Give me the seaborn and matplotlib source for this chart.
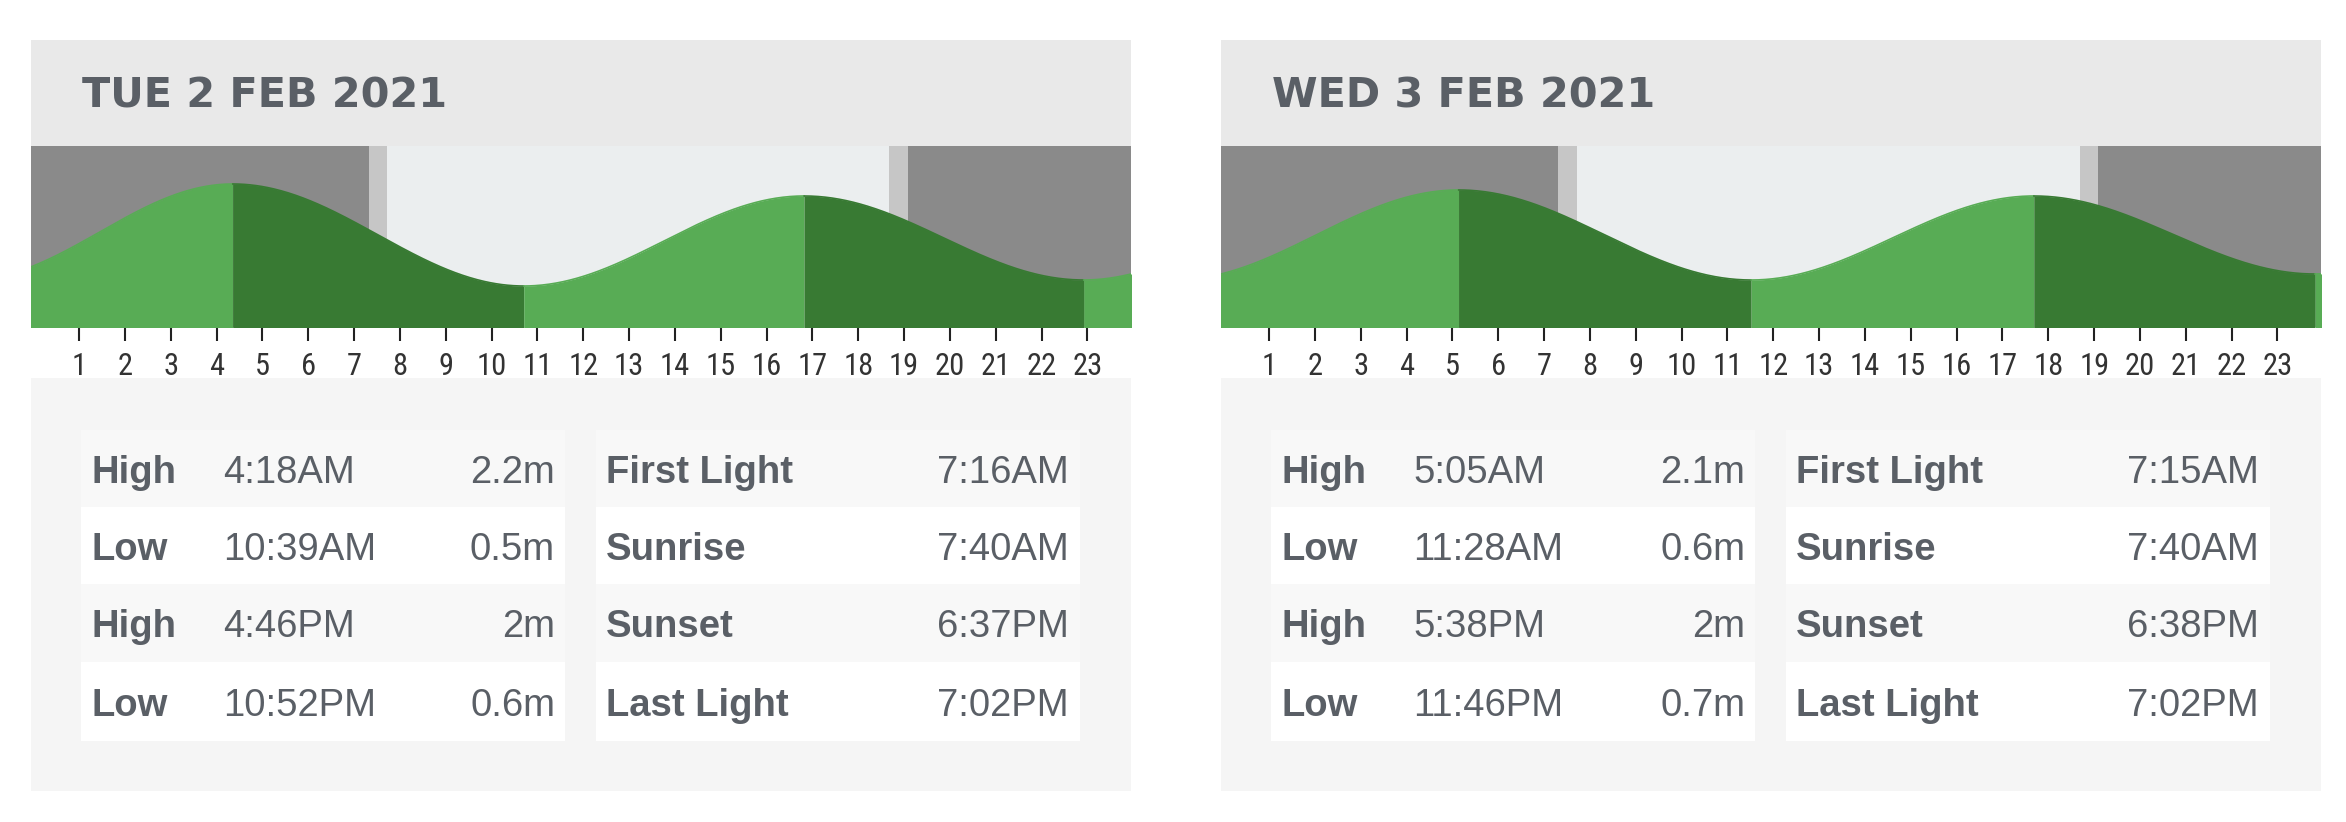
import numpy as np
import pandas as pd
import matplotlib
matplotlib.use("Agg")
import matplotlib.pyplot as plt
from matplotlib.patches import Rectangle
from matplotlib import font_manager
import seaborn as sns

# ---------------- data ----------------
days = ["TUE 2 FEB 2021", "WED 3 FEB 2021"]

tue_tide_types = ["High", "Low", "High", "Low"]
tue_tide_times = ["4:18AM", "10:39AM", "4:46PM", "10:52PM"]
tue_tide_heights = [2.2, 0.5, 2.0, 0.6]
tue_light_times = ["7:16AM", "7:40AM", "6:37PM", "7:02PM"]
# estimated neighbouring extremes (previous / next day) that shape the curve ends
tue_prev_extreme = ("-1.5h", 0.6)
tue_next_extreme = ("5:05AM+", 2.1)

wed_tide_types = ["High", "Low", "High", "Low"]
wed_tide_times = ["5:05AM", "11:28AM", "5:38PM", "11:46PM"]
wed_tide_heights = [2.1, 0.6, 2.0, 0.7]
wed_light_times = ["7:15AM", "7:40AM", "6:38PM", "7:02PM"]
wed_prev_extreme = ("10:52PM-", 0.6)
wed_next_extreme = ("6:00AM+", 2.1)

light_labels = ["First Light", "Sunrise", "Sunset", "Last Light"]
hour_ticks = list(range(1, 24))


def parse_time(t):
    if t.endswith("h"):
        return float(t[:-1])
    shift = 0
    if t.endswith("+"):
        shift, t = 24, t[:-1]
    elif t.endswith("-"):
        shift, t = -24, t[:-1]
    hm, ap = t[:-2], t[-2:]
    h, m = hm.split(":")
    h = int(h) % 12 + (12 if ap == "PM" else 0)
    return h + int(m) / 60 + shift


# ---------------- style ----------------
sns.set_style("white")
plt.rcParams["font.family"] = ["Liberation Sans", "DejaVu Sans"]

# find a condensed sans font for the hour labels
names = {f.name for f in font_manager.fontManager.ttflist}
narrow_family = None
for cand in ["Liberation Sans Narrow", "Arial Narrow", "DejaVu Sans Condensed",
             "Roboto Condensed", "Open Sans Condensed", "Noto Sans Condensed",
             "Noto Sans Display Condensed"]:
    if cand in names:
        narrow_family = cand
        break
narrow_stretch = "normal"
if narrow_family is None:
    for f in font_manager.fontManager.ttflist:
        if f.name in ("Noto Sans", "Open Sans", "Roboto", "Inter") and \
                str(f.stretch) in ("condensed", "semi-condensed", "75", "87.5", "62.5"):
            narrow_family = f.name
            narrow_stretch = f.stretch
            break
tick_size = 22 if narrow_family else 19
if narrow_family is None:
    narrow_family = "Liberation Sans"

W, H = 2346, 822
fig = plt.figure(figsize=(W / 100, H / 100), dpi=100)
canvas = fig.add_axes([0, 0, 1, 1], zorder=0)
canvas.set_xlim(0, W)
canvas.set_ylim(H, 0)
canvas.axis("off")

TXT = "#5a5f66"
NIGHT = "#8a8a8a"
TWI = "#c6c6c6"
DAY = "#ebeeef"
LG = "#58ac55"
DG = "#387a33"

panels = [
    (days[0], tue_tide_types, tue_tide_times, tue_tide_heights, tue_light_times,
     tue_prev_extreme, tue_next_extreme),
    (days[1], wed_tide_types, wed_tide_times, wed_tide_heights, wed_light_times,
     wed_prev_extreme, wed_next_extreme),
]

for i, (title, ttypes, ttimes, theights, ltimes, prev_e, next_e) in enumerate(panels):
    ox = 31 + i * 1190
    pw = 1100
    # header
    canvas.add_patch(Rectangle((ox, 40), pw, 106, color="#e9e9e9", lw=0))
    canvas.text(ox + 51, 108, title, fontsize=29.8, fontweight="bold",
                color=TXT, family=["DejaVu Sans"], va="baseline", ha="left")
    # body
    canvas.add_patch(Rectangle((ox, 378), pw, 413, color="#f5f5f5", lw=0))

    # table
    row_tops = [430, 507, 584, 662]
    row_h = [77, 77, 78, 79]
    for r in range(4):
        rc = "#f8f8f8" if r % 2 == 0 else "#ffffff"
        for tx in (ox + 50, ox + 565):
            canvas.add_patch(Rectangle((tx, row_tops[r]), 484, row_h[r], color=rc, lw=0))
        base = row_tops[r] + row_h[r] / 2 + 14
        # tides
        canvas.text(ox + 61, base, ttypes[r], fontsize=27.5, fontweight="bold",
                    color=TXT, va="baseline", ha="left")
        canvas.text(ox + 192, base, ttimes[r], fontsize=27.5, color=TXT,
                    va="baseline", ha="left")
        hs = f"{theights[r]:g}m"
        canvas.text(ox + 524, base, hs, fontsize=27.5, color=TXT,
                    va="baseline", ha="right")
        # light
        canvas.text(ox + 575, base, light_labels[r], fontsize=27.5, fontweight="bold",
                    color=TXT, va="baseline", ha="left")
        canvas.text(ox + 1038, base, ltimes[r], fontsize=27.5, color=TXT,
                    va="baseline", ha="right")

    # chart axes
    x0, y0, x1, y1 = ox, 146, ox + pw, 327
    ax = fig.add_axes([x0 / W, 1 - y1 / H, (x1 - x0) / W, (y1 - y0) / H], zorder=2)
    ax.set_xlim(-0.1, 23.9)
    ax.set_ylim(-0.183, 2.833)

    lt = [parse_time(t) for t in ltimes]
    ax.axvspan(-1, lt[0], color=NIGHT, lw=0)
    ax.axvspan(lt[0], lt[1], color=TWI, lw=0)
    ax.axvspan(lt[1], lt[2], color=DAY, lw=0)
    ax.axvspan(lt[2], lt[3], color=TWI, lw=0)
    ax.axvspan(lt[3], 25, color=NIGHT, lw=0)

    ext_t = [parse_time(prev_e[0])] + [parse_time(t) for t in ttimes] + [parse_time(next_e[0])]
    ext_h = [prev_e[1]] + list(theights) + [next_e[1]]
    frames = []
    for k in range(len(ext_t) - 1):
        ta, tb = ext_t[k], ext_t[k + 1]
        ha, hb = ext_h[k], ext_h[k + 1]
        s0, s1 = max(ta, -0.2), min(tb, 24)
        if s1 <= s0:
            continue
        xs = np.linspace(s0, s1, 200)
        f = (xs - ta) / (tb - ta)
        ys = ha + (hb - ha) * (1 - np.cos(np.pi * f)) / 2
        col = LG if hb > ha else DG
        ax.fill_between(xs, -1, ys, color=col, lw=0)
        frames.append(pd.DataFrame({"hour": xs, "height": ys, "seg": k}))
    curve = pd.concat(frames)
    for k, seg in curve.groupby("seg"):
        col = LG if ext_h[k + 1] > ext_h[k] else DG
        sns.lineplot(data=seg, x="hour", y="height", ax=ax, color=col, lw=1.2,
                     legend=False)

    ax.set_xlabel("")
    ax.set_ylabel("")
    ax.set_yticks([])
    ax.set_xticks([h - 0.05 for h in hour_ticks])
    ax.set_xticklabels([str(h) for h in hour_ticks], family=[narrow_family, "Liberation Sans"],
                       fontstretch=narrow_stretch, fontsize=tick_size, color="#333333")
    ax.tick_params(axis="x", direction="out", length=10, width=1.5, color="#222222",
                   pad=8, bottom=True)
    for sp in ax.spines.values():
        sp.set_visible(False)

fig.savefig("out.png", dpi=100, facecolor="white")
